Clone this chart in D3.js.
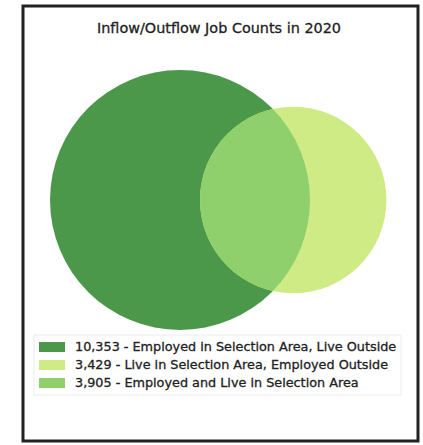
<!DOCTYPE html>
<html><head><meta charset="utf-8">
<script src="https://cdn.jsdelivr.net/npm/d3@7"></script>
<style>html,body{margin:0;padding:0;background:#fff;}svg{display:block;}</style>
</head><body>
<svg id="c" width="423" height="445"></svg>
<script>
const title = "Inflow/Outflow Job Counts in 2020";
const categories = ["Employed in Selection Area, Live Outside", "Live in Selection Area, Employed Outside", "Employed and Live in Selection Area"];
const values = [10353, 3429, 3905];
const colors = ["#4b984a", "#cfeb86", "#8fcf6c"];

const svg = d3.select("#c");
const fmt = d3.format(",");

// frame
svg.append("rect").attr("x", 23).attr("y", 6).attr("width", 395).attr("height", 435)
  .attr("fill", "#fff").attr("stroke", "#222").attr("stroke-width", 3);

svg.append("text").attr("x", 219).attr("y", 33).attr("text-anchor", "middle")
  .attr("font-family", "DejaVu Sans").attr("font-size", 14.4).attr("fill", "#222")
  .attr("stroke", "#222").attr("stroke-width", 0.3).text(title);

// venn geometry
const bigTotal = values[0] + values[2];
const smallTotal = values[1] + values[2];
const r = d3.scaleSqrt().domain([0, bigTotal]).range([0, 130]);
const r1 = r(bigTotal), r2 = r(smallTotal);
const areaScale = Math.PI * r1 * r1 / bigTotal;
const target = values[2] * areaScale;
function lens(d) {
  const a1 = Math.acos((d*d + r1*r1 - r2*r2) / (2*d*r1));
  const a2 = Math.acos((d*d + r2*r2 - r1*r1) / (2*d*r2));
  return r1*r1*(a1 - Math.sin(2*a1)/2) + r2*r2*(a2 - Math.sin(2*a2)/2);
}
let lo = r1 - r2 + 0.001, hi = r1 + r2 - 0.001;
for (let i = 0; i < 60; i++) { const m = (lo+hi)/2; if (lens(m) > target) lo = m; else hi = m; }
const dist = (lo + hi) / 2;
const cy = 200;
const left = 50;
const cx1 = left + r1, cx2 = cx1 + dist;

const defs = svg.append("defs");
defs.append("clipPath").attr("id", "clipBig").append("circle").attr("cx", cx1).attr("cy", cy).attr("r", r1);

svg.append("circle").attr("cx", cx1).attr("cy", cy).attr("r", r1).attr("fill", colors[0]);
svg.append("circle").attr("cx", cx2).attr("cy", cy).attr("r", r2).attr("fill", colors[1]);
svg.append("circle").attr("cx", cx2).attr("cy", cy).attr("r", r2).attr("fill", colors[2]).attr("clip-path", "url(#clipBig)");

// legend
svg.append("rect").attr("x", 34).attr("y", 335).attr("width", 367).attr("height", 60)
  .attr("fill", "#fff").attr("stroke", "#ececec").attr("stroke-width", 1);
const y = d3.scaleBand().domain(categories).range([338, 392]);
const g = svg.selectAll("g.leg").data(categories).join("g").attr("class", "leg")
  .attr("transform", d => `translate(0,${y(d) + y.bandwidth()/2})`);
g.append("rect").attr("x", 39).attr("y", -5).attr("width", 26).attr("height", 10)
  .attr("fill", (d, i) => colors[i]);
g.append("text").attr("x", 75).attr("y", 0).attr("dy", "0.35em")
  .attr("font-family", "DejaVu Sans").attr("font-size", 12.8).attr("fill", "#222")
  .attr("stroke", "#222").attr("stroke-width", 0.3)
  .text((d, i) => `${fmt(values[i])} - ${d}`);
</script>
</body></html>
